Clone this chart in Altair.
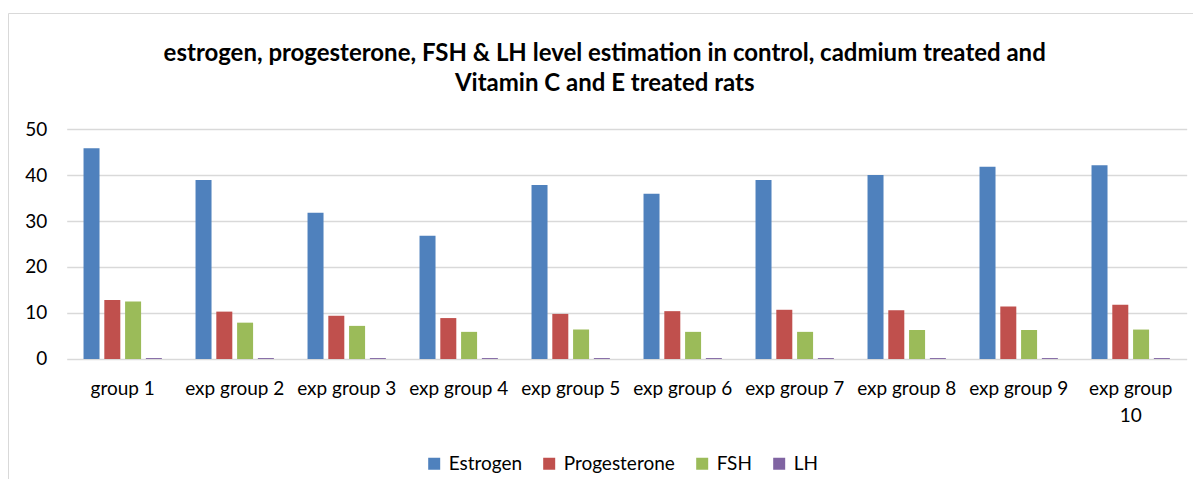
import altair as alt
import pandas as pd

groups = ["group 1", "exp group 2", "exp group 3", "exp group 4", "exp group 5",
          "exp group 6", "exp group 7", "exp group 8", "exp group 9", "exp group 10"]
hormones = ["Estrogen", "Progesterone", "FSH", "LH"]
estrogen = [45.8, 38.9, 31.8, 26.8, 37.8, 35.9, 38.9, 40.0, 41.8, 42.1]
progesterone = [12.8, 10.3, 9.4, 8.9, 9.8, 10.4, 10.7, 10.6, 11.4, 11.8]
fsh = [12.5, 7.9, 7.2, 5.9, 6.4, 5.9, 5.9, 6.3, 6.3, 6.4]
lh = [0.2, 0.2, 0.2, 0.2, 0.2, 0.2, 0.2, 0.2, 0.2, 0.2]
colors = ["#4F81BD", "#C0504D", "#9BBB59", "#8064A2"]

rows = []
for h, vals in zip(hormones, [estrogen, progesterone, fsh, lh]):
    for g, v in zip(groups, vals):
        rows.append({"group": g, "hormone": h, "value": v})
df = pd.DataFrame(rows)

FONT = "Lato"
FS = 19

bars = alt.Chart(df).mark_bar().encode(
    x=alt.X("group:N", sort=groups,
            scale=alt.Scale(paddingInner=0, paddingOuter=0),
            axis=alt.Axis(title=None, labelAngle=0, labelFontSize=FS, labelColor="#000000",
                          labelFont=FONT, domain=False, ticks=False, labelPadding=21,
                          labelLineHeight=27,
                          labelExpr="datum.label == 'exp group 10' ? ['exp group', '10'] : datum.label")),
    xOffset=alt.XOffset("hormone:N", sort=hormones,
                        scale=alt.Scale(paddingInner=0.23, paddingOuter=0.81)),
    y=alt.Y("value:Q", scale=alt.Scale(domain=[0, 50], nice=False),
            axis=alt.Axis(title=None, values=[0, 10, 20, 30, 40, 50], labelFontSize=FS,
                          labelColor="#000000", labelFont=FONT, domain=False, ticks=False,
                          labelPadding=20, gridColor="#d9d9d9", gridWidth=1.3)),
    color=alt.Color("hormone:N", sort=hormones,
                    scale=alt.Scale(domain=hormones, range=colors),
                    legend=alt.Legend(title=None, orient="none", direction="horizontal",
                                      legendX=358, legendY=325, symbolType="square",
                                      symbolSize=144, symbolStrokeWidth=0, labelFontSize=FS,
                                      labelFont=FONT, labelColor="#000000", columnPadding=17,
                                      labelOffset=5)),
)

border = alt.Chart(pd.DataFrame({"a": [0]})).mark_rect(
    fill=None, stroke="#d9d9d9", strokeWidth=1
).encode(x=alt.value(-58.2), x2=alt.value(1200), y=alt.value(-115.5), y2=alt.value(500))

chart = alt.layer(border, bars).properties(
    width=1120, height=230,
    title=alt.TitleParams(
        ["estrogen, progesterone, FSH & LH level estimation in control, cadmium treated and",
         "Vitamin C and E treated rats"],
        fontSize=24, font=FONT, fontWeight="bold", color="#000000", lineHeight=31,
        anchor="middle", dx=-22, offset=-83.5),
    autosize=alt.AutoSizeParams(type="none"),
    padding={"left": 58.7, "top": 121, "right": 6, "bottom": 120},
).configure_view(stroke=None)

chart.save("out.html", embed_options={"renderer": "svg", "actions": False})
